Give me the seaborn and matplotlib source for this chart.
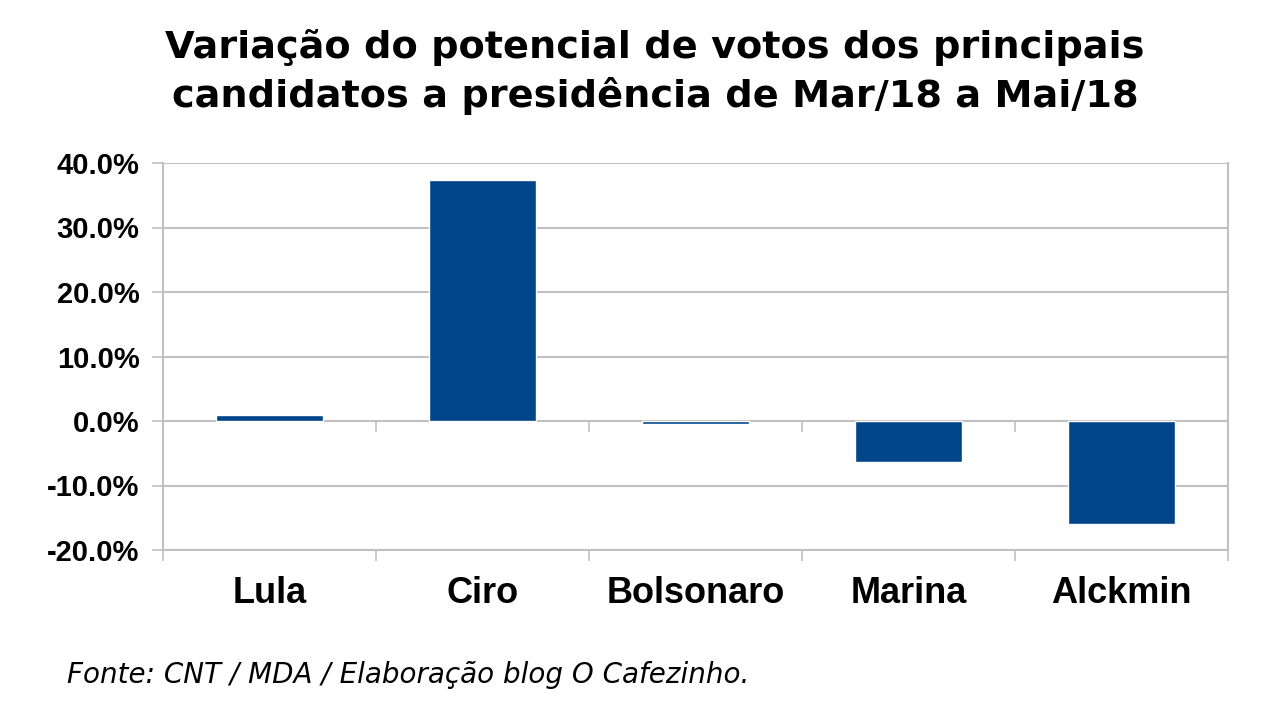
import matplotlib
matplotlib.use("Agg")
import matplotlib.pyplot as plt
import seaborn as sns
import pandas as pd
from matplotlib.ticker import FuncFormatter, FixedLocator

candidates = ["Lula", "Ciro", "Bolsonaro", "Marina", "Alckmin"]
variation = [1.0, 37.3, -0.5, -6.3, -16.0]
yticks = [-20, -10, 0, 10, 20, 30, 40]

title = "Variação do potencial de votos dos principais\ncandidatos a presidência de Mar/18 a Mai/18"
source = "Fonte: CNT / MDA / Elaboração blog O Cafezinho."

sns.set_style("white")
plt.rcParams['font.family'] = ['Liberation Sans', 'DejaVu Sans']
plt.rcParams['text.color'] = 'black'

df = pd.DataFrame({"cand": candidates, "var": variation})

fig = plt.figure(figsize=(12.8, 7.2), dpi=100)
ax = fig.add_axes([163/1280, 1 - 550/720, (1228-163)/1280, (550-163)/720])

sns.barplot(data=df, x="cand", y="var", color="#00448A", width=0.5,
            saturation=1, ax=ax, zorder=3)

grid_c = "#C0C0C0"
ax.set_ylim(-20, 40)
ax.set_xlim(-0.5, len(candidates) - 0.5)
ax.set_yticks(yticks)
ax.yaxis.set_major_formatter(FuncFormatter(lambda v, p: f"{v:.1f}%"))
ax.grid(axis="y", color=grid_c, linewidth=1.5, zorder=0)
ax.set_axisbelow(True)
ax.set_xlabel("")
ax.set_ylabel("")

for s in ax.spines.values():
    s.set_color(grid_c)
    s.set_linewidth(1.5)
ax.spines['top'].set_visible(False)

ax.tick_params(axis="y", which="major", left=True, direction="out", length=8,
               width=1.2, color=grid_c, pad=9, labelsize=21, labelcolor="black")
for lab in ax.get_yticklabels():
    lab.set_fontweight("bold")

bounds = [i - 0.5 for i in range(len(candidates) + 1)]
ax.xaxis.set_minor_locator(FixedLocator(bounds))
ax.tick_params(axis="x", which="major", length=0, pad=19, labelsize=26,
               labelcolor="black")
ax.tick_params(axis="x", which="minor", bottom=True, direction="out", length=8,
               width=1.2, color=grid_c)
for lab in ax.get_xticklabels():
    lab.set_fontweight("bold")

# tick marks along the zero line
zero_frac = (0 - yticks[0]) / (yticks[-1] - yticks[0])
sec = ax.secondary_xaxis(zero_frac)
sec.set_xticks(bounds)
sec.set_xticklabels([])
sec.tick_params(bottom=True, direction="out", length=8, width=1.2, color=grid_c)
for s in sec.spines.values():
    s.set_visible(False)

fig.text(655/1280, 1 - 72/720, title, ha="center", va="center",
         fontsize=27.5, fontweight="bold", linespacing=1.36,
         family=['DejaVu Sans'])

fig.text(67/1280, 1 - 675/720, source, ha="left", va="center",
         fontsize=20, style="italic", family=['DejaVu Sans'])

fig.savefig("out.png", dpi=100, facecolor="white")
